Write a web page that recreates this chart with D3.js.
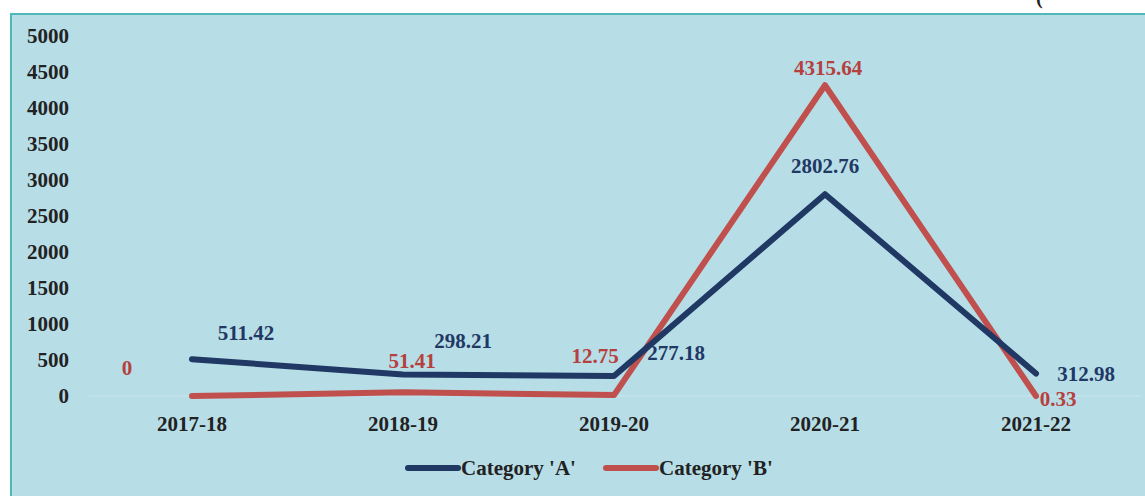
<!DOCTYPE html>
<html lang="en">
<head>
    <meta charset="UTF-8">
    <title>Category A vs B</title>
    <script src="https://cdn.jsdelivr.net/npm/d3@7/dist/d3.min.js"></script>
    <style>
        body { margin: 0; background: #fff; }
        text { font-family: "Liberation Serif", "Times New Roman", serif; font-weight: bold; }
    </style>
</head>
<body>
    <svg></svg>
    <script>
        // data
        let years = ["2017-18", "2018-19", "2019-20", "2020-21", "2021-22"];
        let catA = [511.42, 298.21, 277.18, 2802.76, 312.98];
        let catB = [0, 51.41, 12.75, 4315.64, 0.33];
        let yTicks = [0, 500, 1000, 1500, 2000, 2500, 3000, 3500, 4000, 4500, 5000];

        // label offsets (dx, dy) from each point
        let offA = [[54, -27], [60, -34], [62, -23], [0, -29], [50, 0]];
        let offB = [[-65, -28], [9, -32], [-19, -39], [3, -18], [22, 3]];

        let svgWidth = 1145, svgHeight = 496;
        let colA = "#1f3864", colB = "#c0504d";

        let svg = d3.select("svg")
            .attr("width", svgWidth)
            .attr("height", svgHeight);

        // panel background
        svg.append("rect")
            .attr("x", 11).attr("y", 14)
            .attr("width", 1150).attr("height", 500)
            .attr("fill", "#b7dde7")
            .attr("stroke", "#4fb9b9")
            .attr("stroke-width", 2);

        // cut-off title fragment at top right
        svg.append("text")
            .attr("x", 1036).attr("y", 4)
            .attr("font-size", 20)
            .attr("fill", "#222")
            .text("(");

        let x = d3.scalePoint().domain(years).range([86.5, 1141.5]).padding(0.5);
        let y = d3.scaleLinear().domain([0, 5000]).range([396, 36]);

        // y tick labels
        svg.selectAll(".ytick")
            .data(yTicks)
            .enter()
            .append("text")
            .attr("class", "ytick")
            .attr("x", 69)
            .attr("y", d => y(d))
            .attr("dy", "0.35em")
            .attr("text-anchor", "end")
            .attr("font-size", 21)
            .attr("fill", "#222")
            .text(d => d);

        // faint zero line
        svg.append("line")
            .attr("x1", 88).attr("x2", 1141)
            .attr("y1", y(0)).attr("y2", y(0))
            .attr("stroke", "#c9e6ee")
            .attr("stroke-width", 1);

        // x labels
        svg.selectAll(".xtick")
            .data(years)
            .enter()
            .append("text")
            .attr("class", "xtick")
            .attr("x", d => x(d))
            .attr("y", 431)
            .attr("text-anchor", "middle")
            .attr("font-size", 21)
            .attr("fill", "#222")
            .text(d => d);

        let line = d3.line()
            .x((d, i) => x(years[i]))
            .y(d => y(d));

        [[catB, colB], [catA, colA]].forEach(([vals, c]) => {
            svg.append("path")
                .attr("d", line(vals))
                .attr("fill", "none")
                .attr("stroke", c)
                .attr("stroke-width", 6)
                .attr("stroke-linecap", "round")
                .attr("stroke-linejoin", "round");
        });

        // data labels
        function addLabels(vals, offs, c) {
            svg.append("g").selectAll("text")
                .data(vals)
                .enter()
                .append("text")
                .attr("x", (d, i) => x(years[i]) + offs[i][0])
                .attr("y", (d, i) => y(d) + offs[i][1])
                .attr("dy", "0.35em")
                .attr("text-anchor", "middle")
                .attr("font-size", 21)
                .attr("fill", c)
                .text(d => d);
        }
        addLabels(catA, offA, colA);
        addLabels(catB, offB, "#b5403e");

        // legend
        let legend = [["Category 'A'", colA, 408], ["Category 'B'", colB, 606]];
        legend.forEach(([name, c, lx]) => {
            svg.append("line")
                .attr("x1", lx).attr("x2", lx + 50)
                .attr("y1", 468).attr("y2", 468)
                .attr("stroke", c)
                .attr("stroke-width", 6)
                .attr("stroke-linecap", "round");
            svg.append("text")
                .attr("x", lx + 53).attr("y", 468)
                .attr("dy", "0.35em")
                .attr("font-size", 21)
                .attr("fill", "#222")
                .text(name);
        });
    </script>
</body>
</html>
